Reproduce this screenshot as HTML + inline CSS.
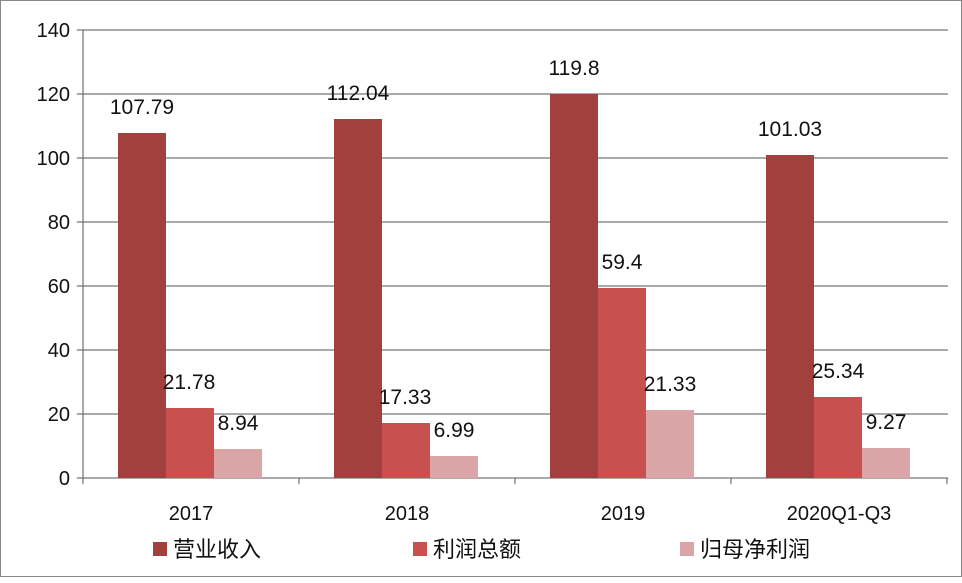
<!DOCTYPE html>
<html><head><meta charset="utf-8"><style>
body{margin:0;background:#fff}
svg text{font-family:"Liberation Sans","Noto Sans CJK SC",sans-serif;fill:#111}
</style></head><body>
<svg width="962" height="578" xmlns="http://www.w3.org/2000/svg">
<rect x="0.5" y="0.5" width="961" height="576" fill="#fff" stroke="#888"/>
<g stroke="#555" stroke-width="1">
<line x1="83" y1="30" x2="948" y2="30"/><line x1="83" y1="94" x2="948" y2="94"/>
<line x1="83" y1="158" x2="948" y2="158"/><line x1="83" y1="222" x2="948" y2="222"/>
<line x1="83" y1="286" x2="948" y2="286"/><line x1="83" y1="350" x2="948" y2="350"/>
<line x1="83" y1="414" x2="948" y2="414"/><line x1="83" y1="478" x2="948" y2="478"/>
<line x1="83" y1="30" x2="83" y2="484"/>
<line x1="77" y1="30" x2="83" y2="30"/><line x1="77" y1="94" x2="83" y2="94"/><line x1="77" y1="158" x2="83" y2="158"/><line x1="77" y1="222" x2="83" y2="222"/><line x1="77" y1="286" x2="83" y2="286"/><line x1="77" y1="350" x2="83" y2="350"/><line x1="77" y1="414" x2="83" y2="414"/><line x1="77" y1="478" x2="83" y2="478"/>
<line x1="299" y1="478" x2="299" y2="484"/><line x1="515" y1="478" x2="515" y2="484"/><line x1="731" y1="478" x2="731" y2="484"/><line x1="947" y1="478" x2="947" y2="484"/>
</g>
<g font-size="20" text-anchor="end">
<text x="70" y="37">140</text><text x="70" y="101">120</text><text x="70" y="165">100</text><text x="70" y="229">80</text><text x="70" y="293">60</text><text x="70" y="357">40</text><text x="70" y="421">20</text><text x="70" y="485">0</text>
</g>
<g>
<rect x="118" y="133" width="48" height="345" fill="#A2403E"/>
<rect x="166" y="408" width="48" height="70" fill="#C8504E"/>
<rect x="214" y="449" width="48" height="29" fill="#D9A5A7"/>
<rect x="334" y="119" width="48" height="359" fill="#A2403E"/>
<rect x="382" y="423" width="48" height="55" fill="#C8504E"/>
<rect x="430" y="456" width="48" height="22" fill="#D9A5A7"/>
<rect x="550" y="94" width="48" height="384" fill="#A2403E"/>
<rect x="598" y="288" width="48" height="190" fill="#C8504E"/>
<rect x="646" y="410" width="48" height="68" fill="#D9A5A7"/>
<rect x="766" y="155" width="48" height="323" fill="#A2403E"/>
<rect x="814" y="397" width="48" height="81" fill="#C8504E"/>
<rect x="862" y="448" width="48" height="30" fill="#D9A5A7"/>
</g>
<g font-size="21" text-anchor="middle">
<text x="142" y="114">107.79</text><text x="189" y="389">21.78</text><text x="238" y="430">8.94</text>
<text x="358" y="100">112.04</text><text x="405" y="404">17.33</text><text x="454" y="437">6.99</text>
<text x="574" y="75">119.8</text><text x="622" y="269">59.4</text><text x="670" y="391">21.33</text>
<text x="790" y="136">101.03</text><text x="838" y="378">25.34</text><text x="886" y="429">9.27</text>
</g>
<g font-size="20" text-anchor="middle">
<text x="191" y="520">2017</text><text x="407" y="520">2018</text><text x="623" y="520">2019</text><text x="839" y="520">2020Q1-Q3</text>
</g>
<rect x="153" y="542" width="14" height="14" fill="#A2403E"/>
<rect x="413" y="542" width="14" height="14" fill="#C8504E"/>
<rect x="680" y="542" width="14" height="14" fill="#D9A5A7"/>
<g font-size="22">
<text x="173" y="557">营业收入</text><text x="433" y="557">利润总额</text><text x="700" y="557">归母净利润</text>
</g>
</svg>
</body></html>
